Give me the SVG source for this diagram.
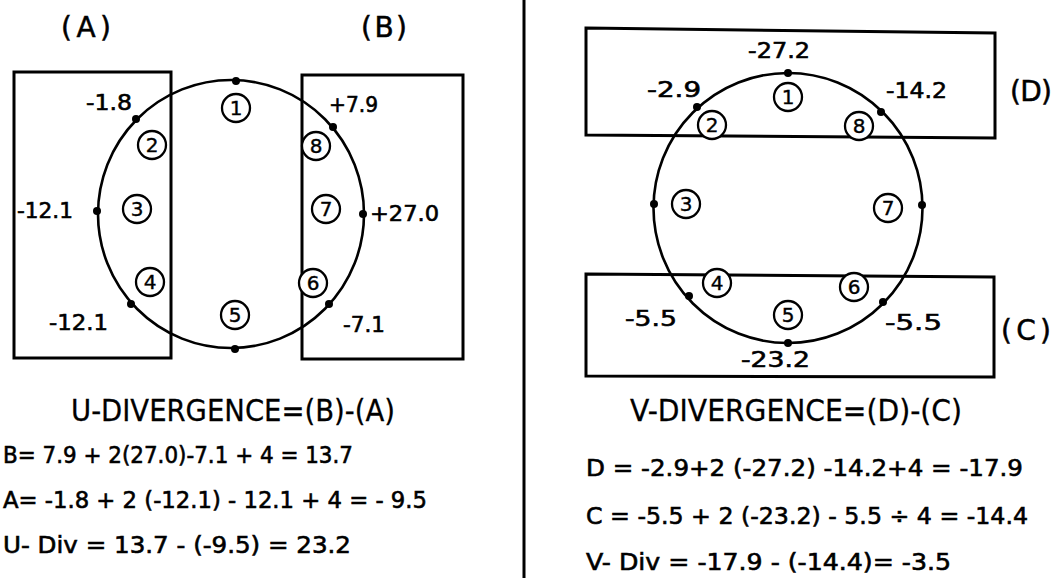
<svg xmlns="http://www.w3.org/2000/svg" width="1061" height="578" viewBox="0 0 1061 578">
<style>
.ln{fill:none;stroke:#000;stroke-width:3}
.cir{fill:none;stroke:#000;stroke-width:2.6}
.dot{fill:#000}
.num{fill:#fff;stroke:#000;stroke-width:2.3}
.t{font-family:"DejaVu Sans","Liberation Sans",Arial,sans-serif;fill:#000;stroke:#000;stroke-width:0.6}
.nt{font-family:"DejaVu Sans","Liberation Sans",Arial,sans-serif;font-size:20px;text-anchor:middle;fill:#000;stroke:#000;stroke-width:0.4}
.lb{font-size:21px}
.hd{font-size:28px;stroke-width:0.5}
.ti{font-size:31px;stroke-width:0.3}
.fm{font-size:23px}
</style>
<defs>
<circle id="d" r="4" class="dot"/>
</defs>
<rect width="1061" height="578" fill="#fff"/>

<g id="divider"><line x1="524" y1="0" x2="524" y2="578" class="ln"/></g>

<!-- LEFT: U-divergence -->
<g id="box-A"><rect x="14" y="72" width="157" height="286" class="ln"/>
<text class="t hd" x="61" y="37" textLength="50" lengthAdjust="spacing">(A)</text></g>
<g id="box-B"><rect x="302" y="75" width="161" height="284" class="ln"/>
<text class="t hd" x="361" y="37" textLength="46" lengthAdjust="spacing">(B)</text></g>
<g id="ring-left">
<ellipse cx="231" cy="214" rx="133" ry="134" class="cir"/>
<use href="#d" x="236" y="81"/><use href="#d" x="235" y="349"/>
<use href="#d" x="97" y="211"/><use href="#d" x="363" y="214"/>
<use href="#d" x="136" y="119"/><use href="#d" x="131" y="304"/>
<use href="#d" x="333" y="127"/><use href="#d" x="329" y="304"/>
</g>
<g id="points-left">
<g id="L1"><circle cx="236" cy="108" r="14" class="num"/><text class="nt" x="236" y="115">1</text></g>
<g id="L2"><circle cx="152" cy="145" r="14" class="num"/><text class="nt" x="152" y="152">2</text></g>
<g id="L3"><circle cx="137" cy="209" r="14" class="num"/><text class="nt" x="137" y="216">3</text></g>
<g id="L4"><circle cx="150" cy="282" r="14" class="num"/><text class="nt" x="150" y="289">4</text></g>
<g id="L5"><circle cx="235" cy="315" r="14" class="num"/><text class="nt" x="235" y="322">5</text></g>
<g id="L6"><circle cx="313" cy="283" r="14" class="num"/><text class="nt" x="313" y="290">6</text></g>
<g id="L7"><circle cx="326" cy="209" r="14" class="num"/><text class="nt" x="326" y="216">7</text></g>
<g id="L8"><circle cx="316" cy="146" r="14" class="num"/><text class="nt" x="316" y="153">8</text></g>
</g>
<g id="values-left">
<text class="t lb" x="86" y="110" textLength="46" lengthAdjust="spacingAndGlyphs">-1.8</text>
<text class="t lb" x="17" y="218" textLength="56" lengthAdjust="spacingAndGlyphs">-12.1</text>
<text class="t lb" x="49" y="330" textLength="59" lengthAdjust="spacingAndGlyphs">-12.1</text>
<text class="t lb" x="329" y="112" textLength="49" lengthAdjust="spacingAndGlyphs">+7.9</text>
<text class="t lb" x="370" y="221" textLength="69" lengthAdjust="spacingAndGlyphs">+27.0</text>
<text class="t lb" x="343" y="332" textLength="42" lengthAdjust="spacingAndGlyphs">-7.1</text>
</g>
<g id="formulas-left">
<text class="t ti" x="71" y="421" textLength="324" lengthAdjust="spacingAndGlyphs">U-DIVERGENCE=(B)-(A)</text>
<text class="t fm" x="3" y="463" textLength="350" lengthAdjust="spacingAndGlyphs">B= 7.9 + 2(27.0)-7.1 + 4 = 13.7</text>
<text class="t fm" x="3" y="508" textLength="424" lengthAdjust="spacingAndGlyphs">A= -1.8 + 2 (-12.1) - 12.1 + 4 = - 9.5</text>
<text class="t fm" x="3" y="553" textLength="348" lengthAdjust="spacingAndGlyphs">U- Div = 13.7 - (-9.5) = 23.2</text>
</g>

<!-- RIGHT: V-divergence -->
<g id="box-D"><polygon points="586,28 995,33 995,138 586,135" class="ln"/>
<text class="t hd" x="1010" y="101" textLength="42" lengthAdjust="spacing">(D)</text></g>
<g id="box-C"><polygon points="586,274 994,277 994,377 586,376" class="ln"/>
<text class="t hd" x="1001" y="340" textLength="50" lengthAdjust="spacing">(C)</text></g>
<g id="ring-right">
<ellipse cx="788" cy="208" rx="134.5" ry="135" class="cir"/>
<use href="#d" x="788" y="73"/><use href="#d" x="788" y="343"/>
<use href="#d" x="654" y="204"/><use href="#d" x="922" y="205"/>
<use href="#d" x="697" y="107"/><use href="#d" x="881" y="112"/>
<use href="#d" x="689" y="296"/><use href="#d" x="883" y="302"/>
</g>
<g id="points-right">
<g id="R1"><circle cx="788" cy="97" r="14" class="num"/><text class="nt" x="788" y="104">1</text></g>
<g id="R2"><circle cx="712" cy="125" r="14" class="num"/><text class="nt" x="712" y="132">2</text></g>
<g id="R3"><circle cx="686" cy="204" r="14" class="num"/><text class="nt" x="686" y="211">3</text></g>
<g id="R4"><circle cx="717" cy="283" r="14" class="num"/><text class="nt" x="717" y="290">4</text></g>
<g id="R5"><circle cx="788" cy="315" r="14" class="num"/><text class="nt" x="788" y="322">5</text></g>
<g id="R6"><circle cx="854" cy="287" r="14" class="num"/><text class="nt" x="854" y="294">6</text></g>
<g id="R7"><circle cx="888" cy="208" r="14" class="num"/><text class="nt" x="888" y="215">7</text></g>
<g id="R8"><circle cx="859" cy="126" r="14" class="num"/><text class="nt" x="859" y="133">8</text></g>
</g>
<g id="values-right">
<text class="t lb" x="748" y="58" textLength="62" lengthAdjust="spacingAndGlyphs">-27.2</text>
<text class="t lb" x="647" y="97" textLength="54" lengthAdjust="spacingAndGlyphs">-2.9</text>
<text class="t lb" x="886" y="98" textLength="61" lengthAdjust="spacingAndGlyphs">-14.2</text>
<text class="t lb" x="625" y="326" textLength="52" lengthAdjust="spacingAndGlyphs">-5.5</text>
<text class="t lb" x="885" y="330" textLength="57" lengthAdjust="spacingAndGlyphs">-5.5</text>
<text class="t lb" x="741" y="367" textLength="69" lengthAdjust="spacingAndGlyphs">-23.2</text>
</g>
<g id="formulas-right">
<text class="t ti" x="630" y="421" textLength="332" lengthAdjust="spacingAndGlyphs">V-DIVERGENCE=(D)-(C)</text>
<text class="t fm" x="586" y="476" textLength="437" lengthAdjust="spacingAndGlyphs">D = -2.9+2 (-27.2) -14.2+4 = -17.9</text>
<text class="t fm" x="586" y="524" textLength="442" lengthAdjust="spacingAndGlyphs">C = -5.5 + 2 (-23.2) - 5.5 ÷ 4 = -14.4</text>
<text class="t fm" x="586" y="570" textLength="365" lengthAdjust="spacingAndGlyphs">V- Div = -17.9 - (-14.4)= -3.5</text>
</g>
</svg>
